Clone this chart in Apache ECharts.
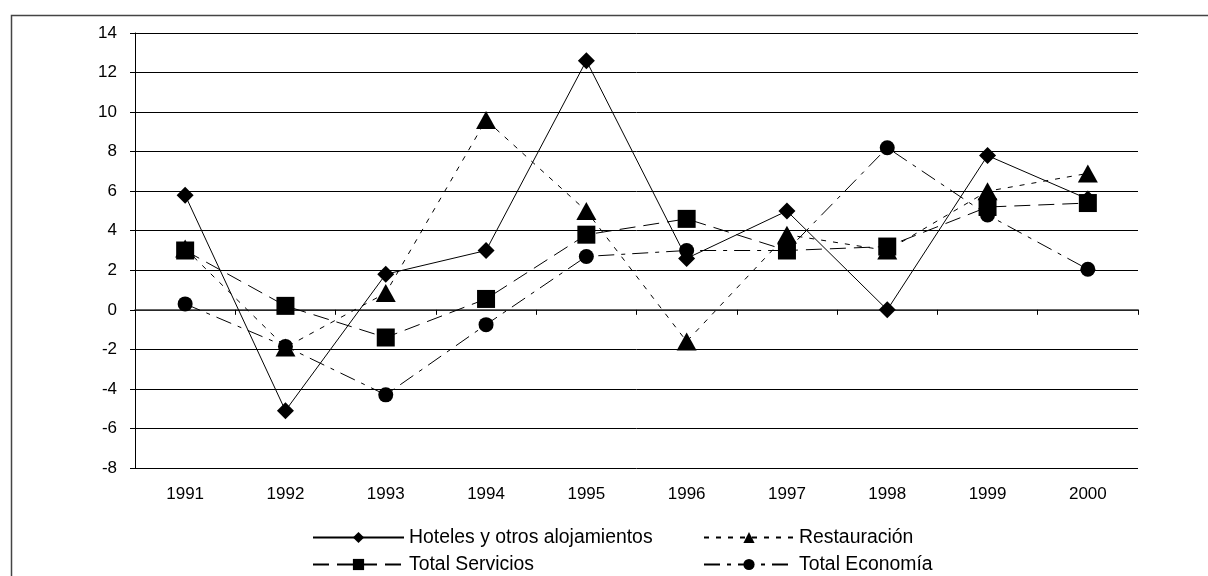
<!DOCTYPE html>
<html>
<head>
<meta charset="utf-8">
<script src="https://cdn.jsdelivr.net/npm/echarts@6/dist/echarts.min.js"></script>
<style>
  html, body { margin: 0; padding: 0; background: #fff; }
  #chart { width: 1208px; height: 576px; }
</style>
</head>
<body>
<div id="chart"></div>
<script>
// años y series
var years = ['1991', '1992', '1993', '1994', '1995', '1996', '1997', '1998', '1999', '2000'];
var hoteles = [5.8, -5.1, 1.8, 3.0, 12.6, 2.6, 5.0, 0.0, 7.8, 5.6];
var restauracion = [3.1, -1.9, 0.85, 9.6, 5.0, -1.6, 3.8, 3.0, 6.0, 6.9];
var totalServicios = [3.0, 0.2, -1.4, 0.55, 3.8, 4.6, 3.0, 3.2, 5.2, 5.4];
var totalEconomia = [0.3, -1.85, -4.3, -0.75, 2.7, 3.0, 3.0, 8.2, 4.8, 2.05];
var yMin = -8, yMax = 14, yStep = 2;

var chart = echarts.init(document.getElementById('chart'), null, { renderer: 'canvas' });
var font = 'Liberation Sans';

function serie(name, data, symbol, size, dash) {
  return {
    name: name,
    type: 'line',
    data: data,
    symbol: symbol,
    symbolSize: size,
    showSymbol: true,
    animation: false,
    itemStyle: { color: '#000' },
    lineStyle: { color: '#000', width: 1, type: dash },
    emphasis: { disabled: true }
  };
}

// una leyenda por elemento, en dos filas y dos columnas
function leyenda(name, left, top, w) {
  return {
    data: [name],
    left: left, top: top,
    itemWidth: w, itemHeight: 14,
    padding: 0,
    selectedMode: false,
    textStyle: { fontFamily: font, fontSize: 19.4, color: '#000' }
  };
}

var option = {
  animation: false,
  backgroundColor: '#fff',
  grid: { left: 135, right: 70, top: 33, bottom: 108 },
  graphic: [{
    type: 'rect',
    shape: { x: 11.5, y: 15.5, width: 1400, height: 800 },
    style: { fill: 'none', stroke: '#444', lineWidth: 1.5 },
    silent: true
  }],
  legend: [
    leyenda('Hoteles y otros alojamientos', 312, 528, 91),
    leyenda('Restauración', 703, 528, 90),
    leyenda('Total Servicios', 312, 555, 91),
    leyenda('Total Economía', 703, 555, 90)
  ],
  xAxis: {
    type: 'category',
    data: years,
    boundaryGap: true,
    axisLine: { show: true, lineStyle: { color: '#333', width: 1.5 } },
    axisTick: { show: true, inside: false, length: 5, interval: 0, lineStyle: { color: '#000' } },
    axisLabel: { margin: 18, fontFamily: font, fontSize: 17, color: '#000', interval: 0 },
    splitLine: { show: false }
  },
  yAxis: {
    type: 'value',
    min: yMin, max: yMax, interval: yStep,
    axisLine: { show: true, lineStyle: { color: '#000', width: 1 } },
    axisTick: { show: true, inside: false, length: 5, lineStyle: { color: '#000' } },
    axisLabel: { margin: 18, fontFamily: font, fontSize: 17, color: '#000' },
    splitLine: { show: true, lineStyle: { color: '#000', width: 1 } }
  },
  series: [
    serie('Hoteles y otros alojamientos', hoteles, 'diamond', 17, 'solid'),
    serie('Restauración', restauracion, 'triangle', [20, 18], [5, 7]),
    serie('Total Servicios', totalServicios, 'rect', 18, [16, 8]),
    serie('Total Economía', totalEconomia, 'circle', 15, [16, 7, 4, 7])
  ]
};
chart.setOption(option);
</script>
</body>
</html>
